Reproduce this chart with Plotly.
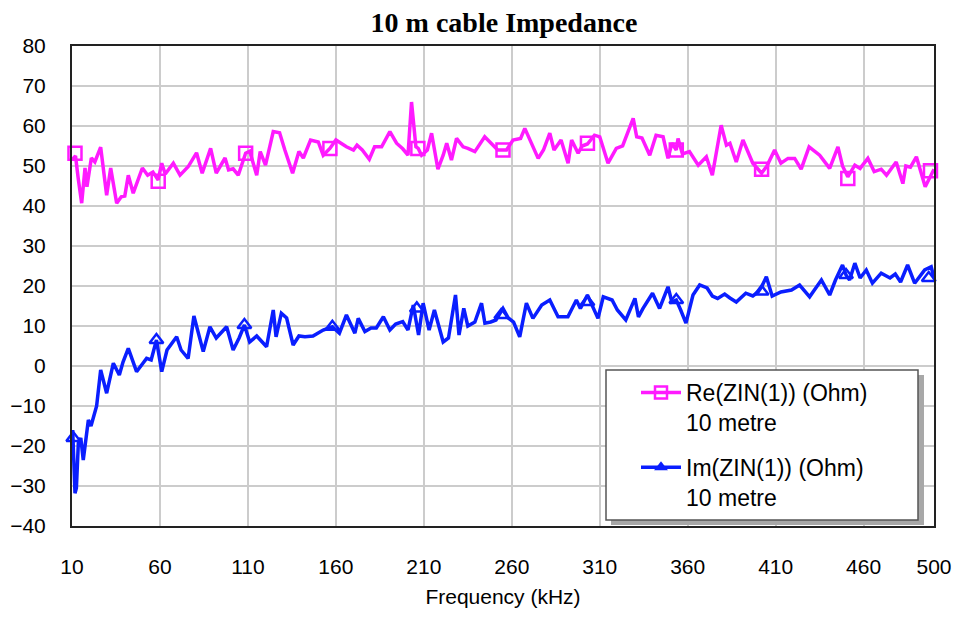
import plotly.graph_objects as go

# ---------------- data ----------------
re_freq = [10, 12, 13.5, 15.5, 17.4, 18.5, 21, 23, 26.3, 29.7, 32, 35.4, 38, 40, 42, 44.8, 50, 53, 56, 59,
           61, 63, 67.6, 71.4, 76, 80.8, 84, 88.8, 92, 97, 99, 101.6, 104.5, 108.7, 111, 115, 117, 120,
           124.4, 128, 131, 135.4, 139, 141.5, 145.6, 150, 152.8, 156.6, 160, 166, 170, 172, 175, 179,
           182, 186, 190.7, 194.5, 198, 201, 203, 205.5, 206.8, 208.7, 212, 214.4, 218, 221, 223, 225.7,
           228.6, 232.3, 235, 239, 244.6, 248, 252, 255, 257, 260.7, 265, 267.4, 271, 275, 278, 281.6,
           284, 288, 292, 294, 297.7, 300, 303, 307, 310, 314.7, 319.4, 323, 329, 331, 334, 338.4, 342,
           346, 348.8, 351, 353.5, 354.5, 357, 361, 366, 370.6, 374, 379, 382, 384, 387.6, 391.4, 397,
           402, 405, 409.4, 413, 417, 420.8, 424.5, 429, 435, 440.7, 445.4, 448, 451, 455, 458, 462.4,
           466, 470, 473, 478.5, 482.3, 484, 486.6, 490, 495, 500]
re_vals = [51.5, 52.5, 47, 40.7, 49.5, 44.8, 52, 51, 54.7, 42.7, 49.5, 40.7, 42.3, 42.5, 47.7, 43.2, 49.5, 47.7, 48.5, 46.5,
           50.7, 48, 50.7, 47.7, 49.8, 53.3, 48.2, 54.4, 48.2, 52, 49, 49.3, 47.7, 53.2, 53.7, 47.7, 53.6, 50.2,
           58.6, 58.3, 54, 48.2, 53.6, 52, 56.5, 56, 52.7, 54.4, 56.5, 54.8, 54, 55.2, 54, 51.7,
           54.8, 54.8, 58.6, 55.7, 54.3, 52.7, 66, 54.8, 54.4, 52.7, 54, 58.2, 49.2, 52.7, 55.7, 51.5,
           56.9, 54.8, 54.4, 53.6, 57.3, 55.7, 54, 54, 54, 56.5, 56.9, 59.4, 55.7, 51.9, 54, 58.2,
           54, 56.5, 50.7, 56.5, 53.2, 55, 55.5, 57.7, 57.3, 50.7, 54.4, 55, 61.9, 57.3, 57, 52.7, 57.7,
           57.3, 51.9, 55.7, 54, 56.9, 53, 53.6, 50.2, 52.3, 47.7, 60.2, 55.2, 55.7, 51, 56.5, 50.7,
           48.2, 50, 54, 50.7, 51.9, 51.9, 49.2, 54.8, 52.7, 49.4, 54.8, 50, 47.3, 50.2, 49.4, 51.9,
           48.6, 49.2, 47.7, 51, 45.6, 50, 49.7, 52.3, 44.8, 49.2]

im_freq = [10.4, 11.7, 12.5, 13.6, 15, 16.4, 19.3, 20.8, 24, 26.3, 29.7, 33.5, 36.9, 39, 42, 46.7, 50, 52.4, 55, 58,
           61, 64, 69.5, 72, 76, 79.3, 84.6, 88.4, 92, 97.9, 101.6, 105, 108, 111, 115, 120.6, 124.4, 126,
           129, 132, 135.7, 139, 142.4, 147, 152.8, 158, 162, 166, 170.8, 172.7, 176.5, 180, 183, 187,
           190.7, 194, 198, 201, 204, 207, 209.6, 213, 216, 221, 224, 228, 230, 232.7, 235, 239, 242.8,
           244.7, 248, 251, 255, 258, 261, 264.5, 268.3, 272, 277, 281.6, 286.3, 291.9, 296.7, 299, 303,
           306, 309, 312, 317, 320, 324.8, 330, 332, 334.6, 340, 344, 348.8, 351, 353.5, 356, 359, 363,
           366.8, 371, 374, 377, 381, 384, 387.6, 393, 397, 400, 402, 404.7, 408, 413, 419, 423.6, 429.3,
           432, 436, 440.7, 444, 448, 450, 452, 455, 458, 461.5, 465, 470, 475, 478, 481, 485, 489, 494.7,
           498.4, 500]
im_vals = [-16, -31.8, -30.5, -19.3, -18, -23.5, -13.5, -15, -10, -1, -6.8, 0.7, -2.25, 1, 4.4, -1.4, 0.5, 1.9, 1.5, 6.5,
           -1.4, 4, 7.3, 4, 1.9, 12.5, 3.6, 9.8, 7, 9.8, 4, 7, 10.25, 6, 7.5, 4.8, 14, 7.3,
           13.2, 12, 5.25, 7.5, 7.3, 7.5, 9, 9.8, 8.2, 12.75, 8.2, 11.9, 8.6, 9.5, 9.5, 12.3,
           9, 10.5, 11.1, 9, 15.25, 7.75, 15.7, 9, 14, 6, 7, 17.75, 7.75, 14.4, 10, 11, 15.7,
           10.7, 11, 11.5, 14.4, 12, 11, 7.3, 15.7, 11.9, 15.25, 16.5, 12.3, 12.3, 16.5, 14.4, 17.75,
           15, 11.9, 17.3, 16.5, 14, 11.5, 16.9, 12.3, 14.4, 18.2, 14.4, 19.8, 16, 16.5, 14, 10.7, 17.75,
           20.25, 19.5, 17.5, 16.9, 18, 17, 16, 18.2, 17.5, 18.5, 19.8, 22.3, 17.5, 18.5, 19, 20.25, 17.3,
           19, 21.5, 17.75, 21.5, 25.25, 22.75, 21.5, 25.7, 22, 24, 20.7, 23.2, 22, 23, 21, 25.25, 20.7, 24,
           24.8, 22]

re_marker_freq = [11.7, 59, 108.7, 156.6, 206.6, 255, 303, 353.5, 402, 451, 498]
re_marker_vals = [53.2, 46.2, 53.2, 54.4, 54.4, 54, 55.7, 54, 49.2, 46.9, 48.8]
im_marker_freq = [10.7, 58, 108, 158, 206, 254, 303, 353.5, 402, 450, 497]
im_marker_vals = [-18, 6.5, 10.25, 9.8, 14.4, 12.75, 16, 16.5, 18.6, 22.75, 22]

x_ticks = [10, 60, 110, 160, 210, 260, 310, 360, 410, 460, 500]
y_ticks = [-40, -30, -20, -10, 0, 10, 20, 30, 40, 50, 60, 70, 80]

re_name = "Re(ZIN(1)) (Ohm)<br>10 metre"
im_name = "Im(ZIN(1)) (Ohm)<br>10 metre"
title_text = "<b>10 m cable Impedance</b>"
x_title = "Frequency (kHz)"

# ---------------- style ----------------
MAGENTA = "#FF1AFF"
BLUE = "#0A1EFF"
W, H = 956, 617
L, R, T, B = 72, 22, 46, 91
PW, PH = W - L - R, H - T - B
TICK_FONT = "Liberation Sans, Arial, sans-serif"
LEG_FONT = "Liberation Sans, Arial, sans-serif"


def px_x(px):
    """screen pixel -> paper x"""
    return (px - L) / PW


def px_y(py):
    """screen pixel -> paper y"""
    return (H - B - py) / PH


fig = go.Figure()

fig.add_trace(go.Scatter(x=re_freq, y=re_vals, mode="lines",
                         line=dict(color=MAGENTA, width=3.5), showlegend=False, hoverinfo="skip"))
fig.add_trace(go.Scatter(x=im_freq, y=im_vals, mode="lines",
                         line=dict(color=BLUE, width=3.5), showlegend=False, hoverinfo="skip"))
fig.add_trace(go.Scatter(x=re_marker_freq, y=re_marker_vals, mode="markers",
                         marker=dict(symbol="square-open", size=13, color=MAGENTA, line=dict(width=2.5)),
                         showlegend=False, cliponaxis=False))
fig.add_trace(go.Scatter(x=im_marker_freq, y=im_marker_vals, mode="markers",
                         marker=dict(symbol="triangle-up-open", size=12, color=BLUE, line=dict(width=2.5)),
                         showlegend=False, cliponaxis=False))
# legend entries
fig.add_trace(go.Scatter(x=[None], y=[None], mode="lines+markers", name=re_name, legendgroup="re",
                         line=dict(color=MAGENTA, width=3.5),
                         marker=dict(symbol="square-open", size=12, color=MAGENTA, line=dict(width=2.5))))
fig.add_trace(go.Scatter(x=[None], y=[None], mode="lines+markers", name=im_name, legendgroup="im",
                         line=dict(color=BLUE, width=3.5),
                         marker=dict(symbol="triangle-up", size=12, color=BLUE)))

# legend box with shadow
fig.add_shape(type="rect", xref="paper", yref="paper", layer="above",
              x0=px_x(611), x1=px_x(924), y0=px_y(525), y1=px_y(375),
              fillcolor="#a8a8a8", line=dict(width=0))
fig.add_shape(type="rect", xref="paper", yref="paper", layer="above",
              x0=px_x(606), x1=px_x(918), y0=px_y(520), y1=px_y(370),
              fillcolor="white", line=dict(color="#555555", width=1.5))

fig.update_layout(
    width=W, height=H,
    margin=dict(l=L, r=R, t=T, b=B, autoexpand=False),
    paper_bgcolor="white", plot_bgcolor="white",
    title=dict(text=title_text, x=px_x(504), xref="paper", xanchor="center",
               y=1 - 22 / H, yref="container", yanchor="middle",
               font=dict(family="Liberation Serif, Times New Roman, serif", size=28, color="black")),
    xaxis=dict(range=[10, 500], tickmode="array", tickvals=x_ticks, ticktext=[str(v) for v in x_ticks],
               showgrid=True, gridcolor="#cccccc", gridwidth=2, automargin=False,
               showline=True, linecolor="#222222", linewidth=2, mirror=True, zeroline=False,
               ticks="outside", ticklen=21, tickcolor="rgba(0,0,0,0)", ticklabeloverflow="allow",
               tickfont=dict(family=TICK_FONT, size=21, color="black"),
               title=dict(text=x_title, standoff=12, font=dict(family=TICK_FONT, size=21, color="black"))),
    yaxis=dict(range=[-40, 80], tickmode="array", tickvals=y_ticks,
               showgrid=True, gridcolor="#cccccc", gridwidth=2, automargin=False,
               showline=True, linecolor="#222222", linewidth=2, mirror=True, zeroline=False,
               ticks="outside", ticklen=20, tickcolor="rgba(0,0,0,0)",
               tickfont=dict(family=TICK_FONT, size=21, color="black")),
    legend=dict(x=px_x(636), y=px_y(371), xanchor="left", yanchor="top", xref="paper", yref="paper",
                bgcolor="rgba(0,0,0,0)", borderwidth=0, valign="top",
                font=dict(family=LEG_FONT, size=23, color="black"),
                tracegroupgap=12, itemwidth=40, traceorder="grouped"),
)

# the page body has a default 8px margin; remove it so the figure fills the window exactly
fig.write_html("out.html",
               config={"displayModeBar": False},
               post_script="document.body.style.margin='0px';document.body.style.overflow='hidden';")
